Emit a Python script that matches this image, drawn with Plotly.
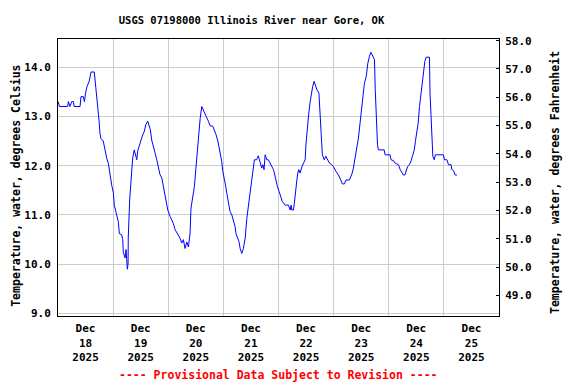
import pandas as pd
import plotly.graph_objects as go

title_text = "USGS 07198000 Illinois River near Gore, OK"
left_title = "Temperature, water, degrees Celsius"
right_title = "Temperature, water, degrees Fahrenheit"
footer_text = "---- Provisional Data Subject to Revision ----"
start_time = "2025-12-18 00:00"
end_time = "2025-12-26 00:00"

# hours since Dec 18 2025 00:00
hours = [
    0.1, 0.6, 4.2, 4.5, 5.2, 6.0, 6.7, 7.0, 9.6, 10.0,
    11.0, 11.5, 12.1, 12.6, 13.5, 14.1, 14.4, 15.8, 16.4, 16.9,
    17.3, 17.9, 18.3, 18.7, 19.7, 20.5, 21.2, 21.9, 22.6, 23.4,
    24.1, 24.5, 25.3, 25.8, 26.3, 26.7, 27.7, 28.2, 28.4, 29.2,
    29.6, 29.9, 30.2, 30.5, 30.6, 31.2, 31.8, 32.1, 32.5, 33.2,
    33.8, 34.3, 34.7, 35.3, 36.2, 36.7, 37.6, 38.2, 39.1, 39.6,
    40.2, 40.8, 41.5, 42.3, 43.0, 43.7, 44.4, 45.2, 45.9, 46.3,
    47.0, 47.8, 48.8, 49.5, 50.2, 51.0, 51.7, 52.4, 53.1, 53.9,
    54.6, 55.3, 56.1, 56.8, 57.5, 57.9, 58.7, 59.4, 60.0, 60.4,
    61.1, 61.9, 62.6, 63.3, 64.5, 65.5, 66.2, 67.4, 68.0, 68.8,
    69.6, 70.1, 70.9, 71.3, 71.7, 72.3, 72.9, 73.5, 74.2, 74.9,
    75.7, 76.4, 77.1, 77.5, 78.1, 78.8, 79.3, 80.0, 80.7, 81.5,
    82.2, 82.9, 83.6, 84.4, 84.8, 85.5, 86.5, 87.2, 87.7, 88.3,
    88.7, 89.2, 89.7, 90.2, 90.9, 91.6, 92.3, 93.1, 93.8, 94.2,
    95.0, 95.5, 96.3, 97.0, 97.7, 98.9, 100.3, 101.1, 101.5, 101.8,
    102.5, 102.9, 103.4, 104.0, 104.4, 104.8, 105.4, 105.8, 106.2, 106.9,
    107.6, 108.0, 108.6, 109.2, 109.8, 110.3, 110.9, 111.5, 112.1, 112.7,
    113.6, 114.1, 114.6, 115.1, 115.9, 116.6, 117.3, 118.2, 119.2, 119.9,
    121.1, 122.1, 123.1, 123.8, 124.7, 125.4, 126.9, 127.5, 128.1, 128.6,
    129.4, 130.1, 130.8, 131.5, 132.3, 133.0, 133.4, 134.2, 134.9, 135.6,
    136.2, 136.8, 137.3, 137.8, 138.1, 138.5, 139.1, 139.5, 142.0, 142.4,
    144.6, 145.0, 146.1, 146.8, 148.2, 149.0, 149.7, 150.4, 151.0, 151.6,
    152.2, 153.0, 153.6, 154.3, 155.1, 155.6, 156.2, 156.8, 157.4, 158.0,
    158.6, 159.1, 159.7, 160.3, 161.7, 162.0, 162.5, 162.9, 163.2, 163.8,
    164.3, 167.8, 168.3, 169.3, 170.0, 171.1, 171.5, 172.2, 172.9, 173.7,
]

temp_c = [
    13.3, 13.2, 13.2, 13.3, 13.2, 13.3, 13.3, 13.2, 13.2, 13.4,
    13.4, 13.3, 13.5, 13.6, 13.7, 13.8, 13.9, 13.9, 13.65, 13.4,
    13.2, 12.9, 12.65, 12.55, 12.5, 12.3, 12.15, 12.05, 11.8, 11.6,
    11.45, 11.2, 11.05, 10.92, 10.85, 10.62, 10.6, 10.5, 10.25, 10.13,
    10.3, 10.1, 9.9, 10.0, 10.55, 11.3, 11.68, 11.95, 12.15, 12.32,
    12.22, 12.12, 12.3, 12.4, 12.54, 12.6, 12.7, 12.83, 12.9, 12.83,
    12.73, 12.52, 12.36, 12.25, 12.12, 11.95, 11.82, 11.75, 11.58, 11.44,
    11.34, 11.1, 10.97, 10.9, 10.83, 10.7, 10.64, 10.6, 10.53, 10.43,
    10.5, 10.32, 10.45, 10.35, 10.63, 11.14, 11.34, 11.58, 11.92, 12.15,
    12.56, 12.96, 13.2, 13.11, 13.0, 12.9, 12.81, 12.8, 12.73, 12.63,
    12.5, 12.39, 12.22, 12.08, 11.9, 11.78, 11.61, 11.44, 11.27, 11.07,
    11.0, 10.9, 10.76, 10.62, 10.53, 10.46, 10.32, 10.22, 10.32, 10.53,
    10.93, 11.17, 11.44, 11.71, 11.9, 12.12, 12.12, 12.2, 12.12, 11.98,
    11.95, 12.02, 11.92, 12.22, 12.12, 12.12, 12.05, 12.0, 11.92, 11.85,
    11.64, 11.58, 11.47, 11.34, 11.27, 11.2, 11.2, 11.1, 11.2, 11.1,
    11.1, 11.24, 11.54, 11.71, 11.85, 11.92, 11.85, 11.92, 11.98, 12.05,
    12.12, 12.46, 12.83, 13.07, 13.3, 13.5, 13.61, 13.71, 13.61, 13.54,
    13.47, 13.13, 12.63, 12.22, 12.12, 12.19, 12.12, 12.05, 12.02, 11.98,
    11.88, 11.81, 11.71, 11.63, 11.63, 11.71, 11.71, 11.78, 11.85, 11.95,
    12.15, 12.32, 12.56, 12.86, 13.2, 13.47, 13.67, 13.81, 14.08, 14.22,
    14.3, 14.25, 14.18, 14.15, 13.57, 12.96, 12.42, 12.32, 12.32, 12.22,
    12.22, 12.12, 12.1, 12.05, 12.02, 11.92, 11.86, 11.81, 11.81, 11.92,
    11.98, 12.02, 12.08, 12.19, 12.32, 12.49, 12.69, 12.86, 13.2, 13.44,
    13.71, 13.98, 14.11, 14.2, 14.2, 13.44, 12.9, 12.42, 12.19, 12.12,
    12.22, 12.22, 12.12, 12.12, 12.02, 12.02, 11.92, 11.9, 11.81, 11.81,
]

c_range = [8.951, 14.569]
f_range = [48.27, 58.06]

FONT = "DejaVu Sans Mono"
# the page body has an 8 px margin, so the figure is 568x376 placed at (8, 8)
W, H, OFF = 568, 376, 8
base = pd.Timestamp(start_time)
times = base + pd.to_timedelta(hours, unit="h")

fig = go.Figure()
fig.add_trace(go.Scatter(x=times, y=temp_c, mode="lines",
                         line=dict(color="#0000ff", width=1),
                         showlegend=False, hoverinfo="skip"))
fig.add_trace(go.Scatter(x=[times[0]], y=[temp_c[0] * 1.8 + 32], yaxis="y2",
                         mode="markers", marker=dict(opacity=0),
                         showlegend=False, hoverinfo="skip"))

fig.update_layout(
    width=W, height=H,
    margin=dict(l=58 - OFF, r=77, t=39 - OFF, b=68, autoexpand=False),
    paper_bgcolor="white", plot_bgcolor="white",
    font=dict(family=FONT, size=11, color="black", weight="bold"),
    title=dict(text=title_text, x=(251.5 - OFF) / W, xanchor="center",
               y=1 - (20 - OFF) / H, yanchor="middle",
               font=dict(family=FONT, size=10.5, color="black", weight="bold")),
    xaxis=dict(type="date", range=[start_time, end_time],
               dtick=86400000, tick0=start_time, ticklabelmode="period",
               tickformat="%b<br>%d<br>%Y",
               showgrid=True, gridcolor="#cccccc", gridwidth=1,
               showline=True, linecolor="black", linewidth=1, mirror=True,
               ticks="", zeroline=False, ticklabelstandoff=2,
               tickfont=dict(family=FONT, size=11, weight="bold")),
    yaxis=dict(range=c_range, dtick=1.0, tick0=9.0, tickformat=".1f",
               showgrid=True, gridcolor="#cccccc", gridwidth=1,
               showline=True, linecolor="black", linewidth=1, mirror=True,
               ticks="", zeroline=False, ticklabelstandoff=4,
               tickfont=dict(family=FONT, size=11, weight="bold")),
    yaxis2=dict(range=f_range, dtick=1.0, tick0=49.0, tickformat=".1f",
                overlaying="y", side="right", showgrid=False,
                showline=True, linecolor="black", linewidth=1,
                ticks="inside", ticklen=3, tickcolor="black",
                zeroline=False, ticklabelstandoff=3,
                tickfont=dict(family=FONT, size=11, weight="bold")),
    annotations=[
        dict(text=left_title, xref="paper", yref="paper",
             x=(16 - 58) / 441, y=0.47, xanchor="center", yanchor="middle",
             textangle=-90, showarrow=False,
             font=dict(family=FONT, size=11.5, weight="bold")),
        dict(text=right_title, xref="paper", yref="paper",
             x=(555 - 58) / 441, y=0.48, xanchor="center", yanchor="middle",
             textangle=-90, showarrow=False,
             font=dict(family=FONT, size=11.5, weight="bold")),
        dict(text=footer_text, xref="paper", yref="paper",
             x=0.5, y=-(375 - 315.7) / 276.4, xanchor="center", yanchor="middle",
             showarrow=False,
             font=dict(family=FONT, size=11.5, color="#ff0000", weight="bold")),
    ],
)

fig.write_html("out.html")
